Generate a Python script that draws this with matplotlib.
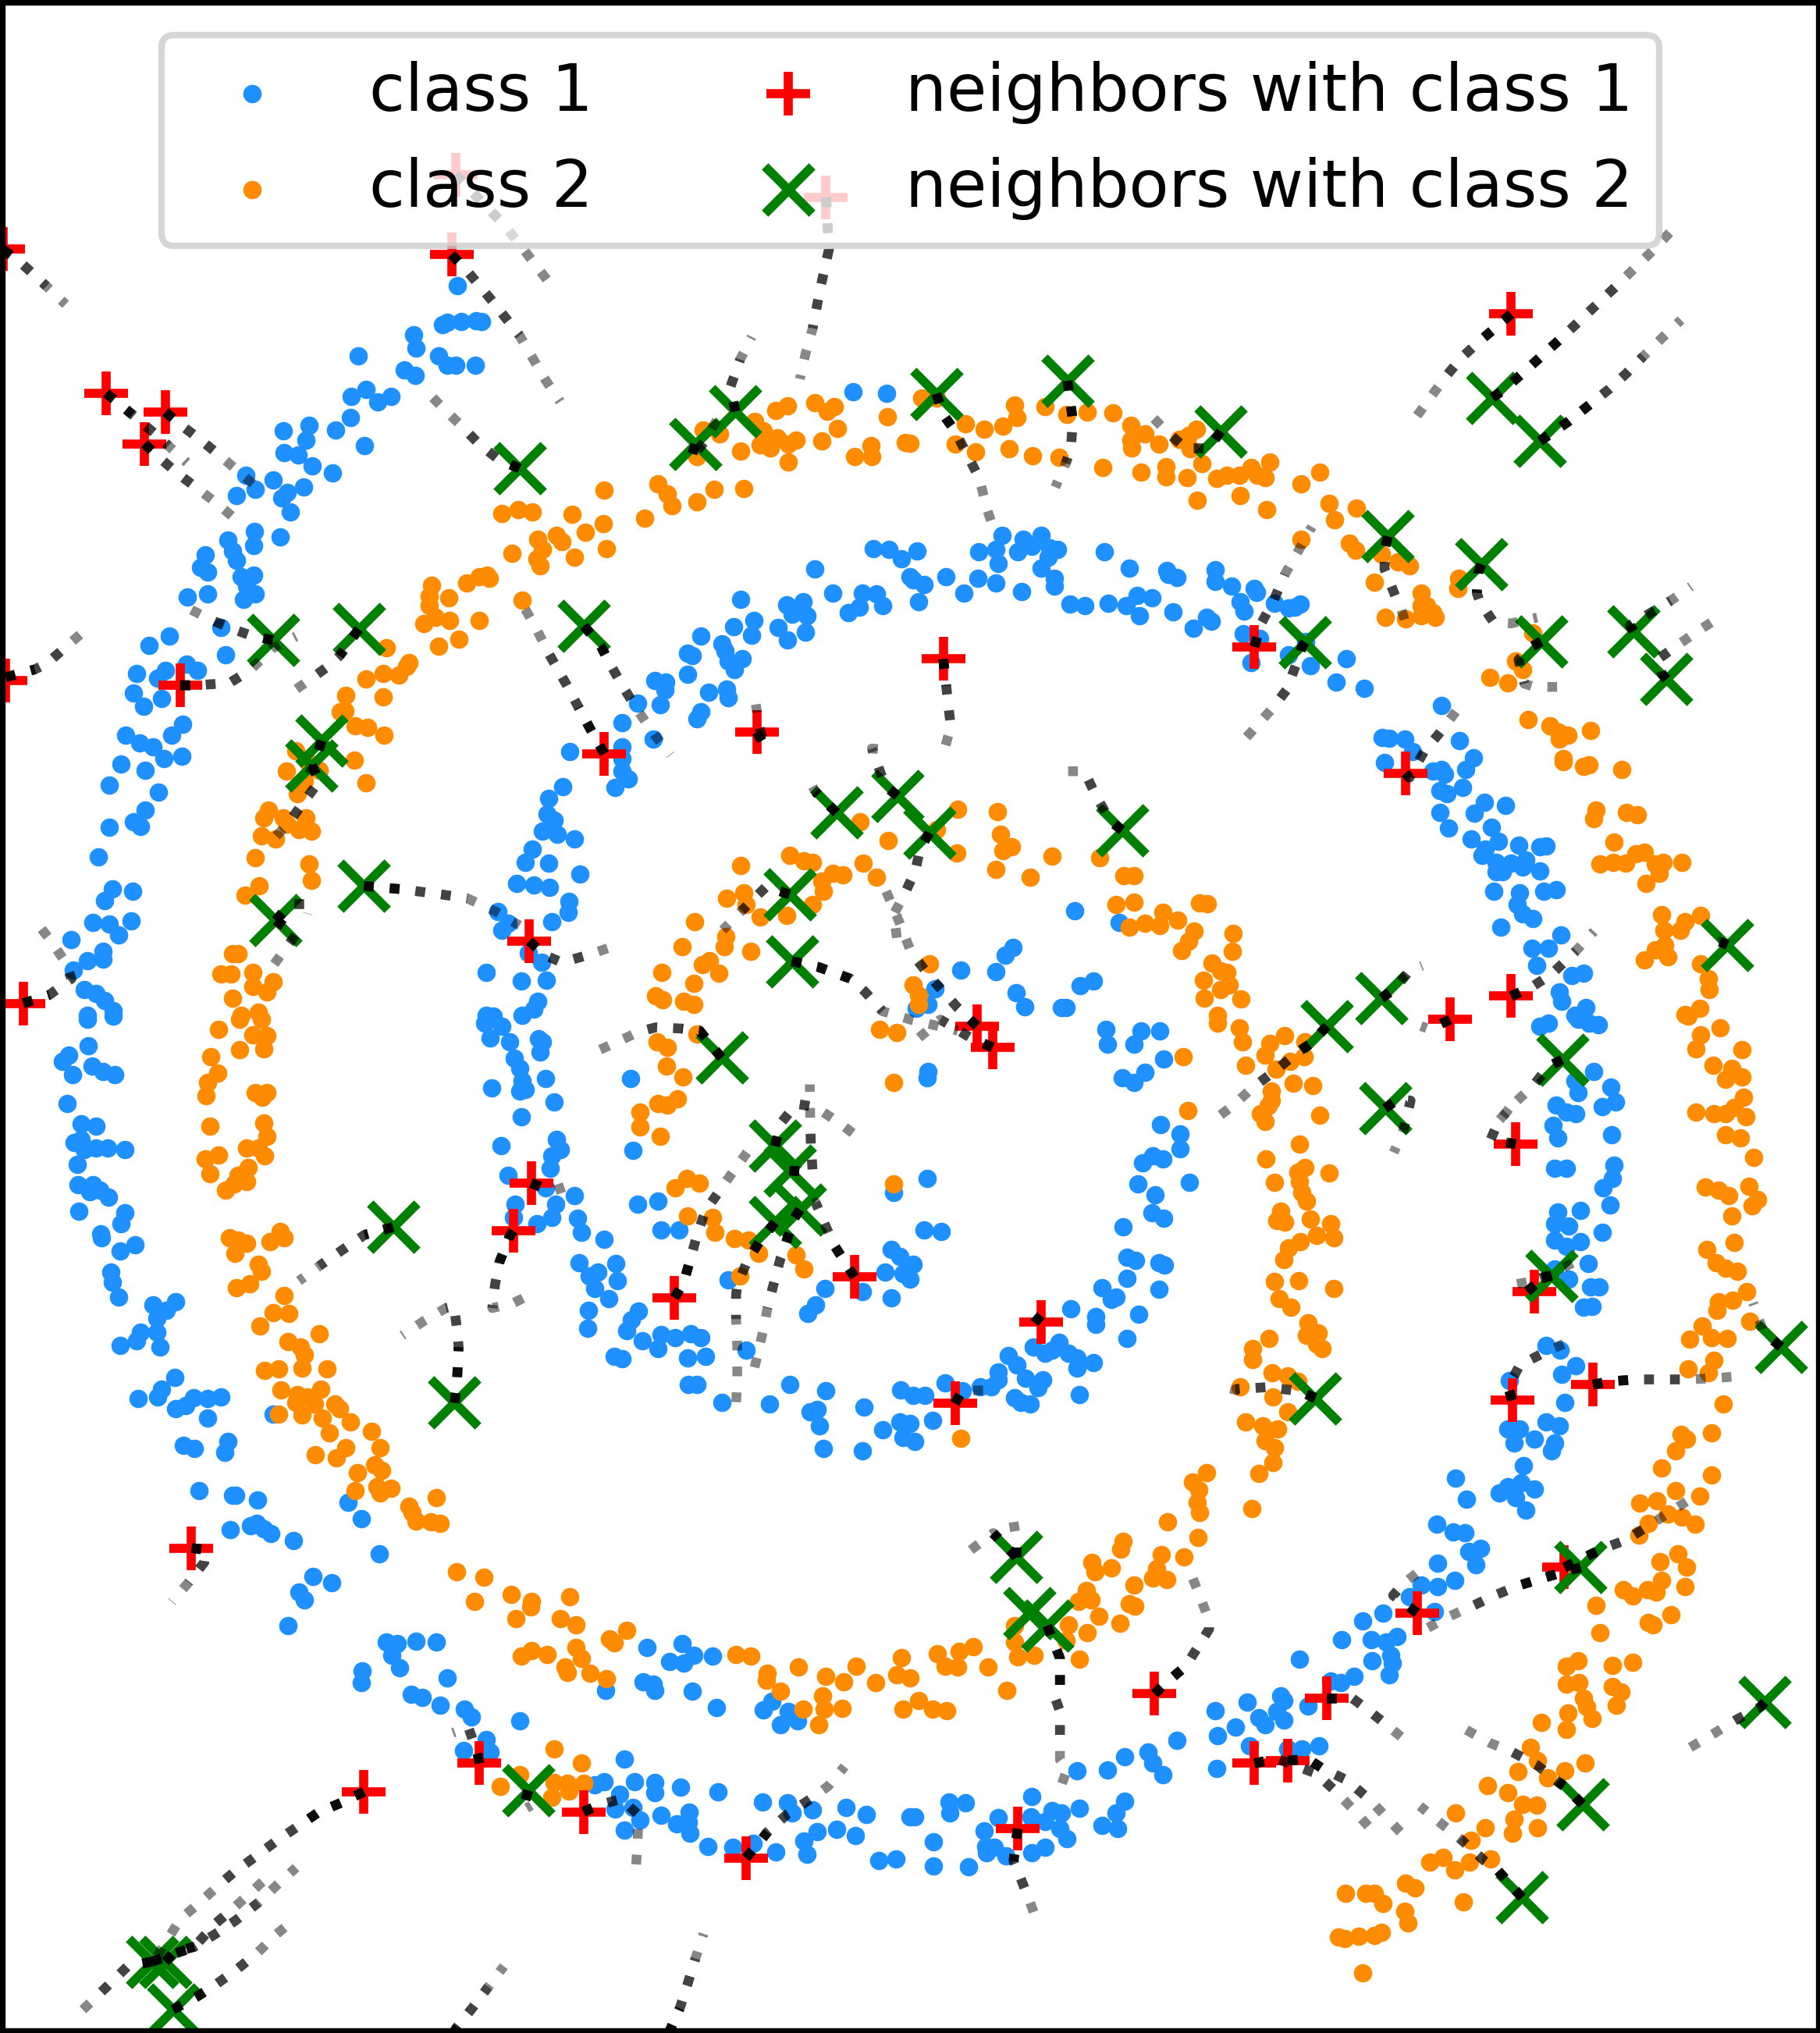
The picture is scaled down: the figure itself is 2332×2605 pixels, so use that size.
import numpy as np
import matplotlib
matplotlib.use('Agg')
import matplotlib.pyplot as plt

# points, one list per quadrant (each quadrant is 1568 units wide and tall)
blue_nw = [(788,441),(762,501),(770,498),(795,497),(820,495),(830,497),(712,517),(717,537),(617,550),(755,549),(770,564),(785,564),(819,564),(697,571),(715,579),(605,612),(631,601),(651,620),(673,612),(603,645),(578,664),(488,665),(532,657),(527,680),(628,688),(490,699),(513,702),(538,719),(573,730),(424,733),(471,741),(440,755),(523,752),(407,765),(495,760),(485,768),(500,790),(438,820),(392,834),(437,842),(482,829),(400,850),(353,856),(408,865),(345,876),(358,883),(437,888),(415,890),(425,905),(440,916),(420,925),(323,921),(358,917),(381,968),(292,981),(257,996),(388,1010),(322,1025),(340,1034),(285,1035),(235,1039),(272,1047),(230,1069),(278,1078),(247,1090),(314,1118),(296,1135),(217,1135),(240,1146),(263,1152),(282,1171),(313,1167),(209,1179),(250,1188),(188,1212),(273,1222),(250,1250),(230,1268),(242,1275),(188,1276),(169,1322),(194,1372),(229,1375),(180,1389),(160,1423),(188,1426),(226,1421),(205,1443),(123,1450),(178,1468),(150,1482),(178,1480),(127,1497),(145,1527),(165,1533),(180,1544),(195,1559),(150,1567),
    (1403,878),(1505,847),(1531,848),(1553,862),(1567,890),(1435,915),(1276,925),(1355,933),(1384,929),(1486,915),(1510,917),(1521,935),(1480,937),(1461,945),(1365,948),(1390,950),(1299,957),(1264,967),(1340,968),(1388,976),(1356,988),(1295,980),(1208,982),(1243,994),(1249,1005),(1184,1008),(1192,1012),(1255,1020),(1278,1016),(1265,1033),(1128,1050),(1147,1052),(1184,1041),(1145,1065),(1221,1068),(1252,1063),(1255,1077),(1098,1085),(1137,1088),(1207,1098),(1201,1109),(1072,1115),(1125,1140),(1071,1153),(981,1160),(1071,1171),(1072,1190),(1082,1202),(1059,1215),(969,1214),(945,1232),(943,1256),(955,1265),(935,1282),(960,1287),(990,1295),(917,1310),(905,1330),(945,1332),(890,1363),(919,1365),(947,1369),(999,1349),(980,1391),(979,1408),(858,1407),(875,1425),(865,1435),(950,1422),(910,1470),(933,1485),(838,1500),(941,1512),(898,1513),(926,1545),(900,1567),(920,1557),(838,1567),(1469,605),(1528,607)]
blue_ne = [(12,850),(118,851),(148,848),(195,832),(158,826),(226,826),(210,843),(185,851),(240,845),(254,848),(238,860),(152,870),(226,877),(335,851),(377,877),(61,890),(116,892),(147,900),(5,895),(24,902),(93,915),(192,913),(15,929),(249,893),(248,905),(442,880),(460,891),(445,887),(526,879),(525,897),(553,904),(592,908),(597,914),(568,928),(575,943),(275,932),(301,934),(341,931),(372,934),(391,919),(417,923),(395,950),(453,944),(488,970),(511,953),(519,959),(627,931),(652,938),(672,932),(662,937),(574,978),(602,985),(652,1010),(681,990),(587,1023),(690,1027),(751,1016),(734,1053),(782,1062),(915,1089),(813,1138),(825,1139),(852,1141),(946,1143),(865,1160),(970,1169),(817,1177),(957,1187),(900,1190),(915,1187),(920,1194),(913,1220),(925,1225),(952,1215),(913,1254),(989,1238),(1025,1243),(972,1255),(928,1278),(1001,1277),(966,1295),(1013,1298),(1049,1304),(1085,1306),(1095,1305),(990,1310),(985,1320),(1010,1330),(1035,1332),(1060,1327),(1010,1345),(1020,1345),(1055,1338),(1085,1344),(1005,1375),(1050,1378),(1091,1375),(1113,1373),(1045,1395),(1055,1410),(1072,1417),(1018,1430),(1121,1443),(1071,1463),(1099,1463),(1079,1489),(1140,1505),(1160,1502),(1118,1530),(1122,1545),(1164,1555),(1145,1567),(284,1405),(360,1423),(177,1462),(164,1474),(87,1497),(148,1499),(43,1525),(183,1531),(293,1521),(316,1513),(197,1553),(260,1555),(268,1555),(30,1550),(10,1556)]
blue_sw = [(150,5),(195,0),(152,45),(118,60),(108,70),(125,90),(158,77),(178,85),(198,90),(116,134),(140,166),(165,170),(128,195),(140,190),(145,205),(165,203),(185,203),(215,205),(133,228),(135,260),(160,260),(155,270),(172,268),(187,279),(136,301),(215,303),(208,320),(174,335),(175,342),(232,352),(207,362),(191,394),(194,410),(205,433),(263,445),(303,440),(287,453),(270,465),(242,487),(270,487),(235,500),(207,508),(275,510),(301,557),(278,575),(238,589),(272,587),(334,588),(358,590),(380,587),(303,605),(320,600),(357,620),(316,662),(335,667),(392,656),(387,672),(343,732),(400,739),(406,739),(444,746),(397,792),(443,782),(432,786),(455,790),(467,798),(505,809),(599,750),(623,775),(654,829),(539,864),(571,874),(515,888),(525,900),(496,940),(470,613),(665,965),(685,968),(716,964),(751,965),(675,985),(689,1005),(624,1010),(623,1027),(770,1020),(709,1046),(727,1050),(758,1062),(800,1068),(812,1080),(896,1086),(838,1116),(799,1132),(845,1135),(1075,1145),(1040,1180),(1025,1185),(1093,1180),(1128,1182),(1128,1197),(1172,1189),(1237,1196),(1067,1200),(1060,1222),(1090,1220),(1103,1240),(1075,1255),(1139,1232),(1165,1245),(1187,1227),(1186,1243),(1189,1260),(1220,1280),(1262,1282),(1298,1275),(1337,1289),(1313,1212),(1357,1213),(1365,1228),(1399,1224),(1457,1220),(1492,1231),(1385,1272),(1408,1258),(1441,1254),(1474,1263),(1390,1292),(1514,1302),(1544,1300),(1568,1235),
    (850,0),(835,10),(865,15),(845,33),(878,40),(928,35),(935,40),(930,55),(886,65),(895,80),(940,96),(900,100),(895,115),(905,113),(847,110),(955,132),(898,155),(863,200),(958,190),(965,205),(950,215),(948,235),(875,245),(1087,96),(1091,207),(1098,290),(1133,285),(1139,330),(1170,330),(990,277),(995,312),(1002,333),(957,290),(950,310),(925,320),(888,290),(940,265),(885,310),(1040,344),(998,380),(1030,395),(1015,400),(1061,381),(1064,408),(1025,420),(1049,435),(1014,453),(1100,455),(1088,468),(1080,485),(1013,481),(1107,500),(1139,491),(1163,495),(1190,490),(1207,496),(1133,513),(1058,525),(1072,528),(1184,527),(1215,524),(1285,515),(1186,568),(1200,568),(1243,596),(1325,598),(1361,568),(1422,578),(1395,610),(1408,606),(1412,632),(1488,603),(1521,638),(1552,576),(1550,625),(1418,667),(1486,670),(1555,650),(1254,407),(1421,420),(1485,424),(1405,445),(1392,458),(1535,434),(1524,394),(1535,360),(1550,370),(1555,397),(1540,272),
    (1115,973),(1175,967),(1195,985),(1228,987),(1153,995),(1178,998),(1108,1026),(1125,1030),(1128,1040),(1192,1041),(1043,1040),(1234,1066),(1315,1070),(1330,1057),(1358,1072),(1345,1092),(1374,1087)]
blue_se = [(29,95),(30,85),(337,20),(398,22),(430,22),(340,43),(385,43),(436,66),(365,95),(385,102),(405,86),(431,167),(465,181),(465,204),(400,226),(418,215),(435,220),(392,259),(481,256),(422,275),(417,303),(436,312),(367,325),(29,250),(24,330),(54,332),(373,372),(388,376),(428,380),(438,384),(5,382),(0,405),(374,404),(428,421),(331,419),(355,433),(346,437),(276,451),(393,460),(320,463),(319,475),(373,497),(257,503),(212,510),(232,520),(245,515),(272,520),(287,527),(169,523),(184,538),(152,548),(152,560),(198,558),(228,560),(220,573),(292,583),(180,588),(190,595),(207,598),(288,543),(316,534),(60,565),(120,571),(140,572),(90,578),(5,585),(25,585),(0,628),(38,623),(8,656),
    (1085,15),(1100,10),(1150,5),(1170,10),(1185,13),(1178,85),(1207,109),(1215,132),(1192,139),(1145,100),(1150,118),(1113,137),(1130,148),(1147,150),(1108,168),(1115,187),(1208,183),(1110,235),(1130,235),(1213,230),(1210,250),(1193,264),(1206,291),(1155,299),(1115,302),(1110,320),(1135,324),(1192,333),(1155,347),(1110,345),(1130,355),(1168,381),(1110,390),(1135,405),(1172,417),(1187,417),(1160,449),(1175,447),(1095,508),(1120,515),(1146,539),(1122,552),(1032,562),(1128,596),(1095,625),(1118,631),(1030,637),(1050,637),(1040,658),(1075,652),(1110,658),(1105,670),(1057,693),(939,712),(958,745),(1030,725),(1015,735),(1043,742),(1053,720),(1075,729),(1060,762),(907,783),(936,795),(955,797),(962,825),(983,820),(974,846),(908,844),(938,870),(880,877),(908,880),(860,895),(903,918),(815,921),(780,933),(743,961),(794,961),(820,965),(838,956),(828,985),(796,994),(830,998),(825,1016),(670,991),(765,1018),(725,1025),(742,1027),(580,1058),(638,1048),(643,1055),(686,1064),(525,1071),(632,1072),(600,1082),(643,1085),(612,1093),(560,1096),(530,1109),(459,1117),(410,1135),(418,1152),(435,1170),(369,1142),(340,1162),(288,1163),(704,1125),(585,1125),(675,1130),(650,1130),(528,1160),
    (210,1203),(67,1212),(95,1213),(68,1228),(8,1235),(152,1236),(128,1256),(208,1235),(245,1225),(260,1228),(232,1242),(258,1253),(292,1221),(370,1211),(355,1228),(330,1248),(357,1253),(270,1268),(232,1282),(40,1273),(130,1280),(145,1282),(132,1290),(165,1295),(210,1290),(40,1310),(100,1312)]

orange_nw = [(1403,622),(1357,626),(1336,634),(1437,628),(1425,635),(1300,650),(1442,661),(1529,643),(1212,664),(1240,670),(1315,665),(1339,676),(1372,680),(1358,686),(1310,687),(1327,692),(1416,681),(1500,688),(1560,683),(1276,696),(1200,705),(1472,705),(1502,705),(1358,713),(1041,756),(1134,747),(1150,763),(1158,781),(1230,755),(1281,754),(1200,774),(1110,800),(865,793),(893,787),(917,790),(985,794),(1039,808),(958,826),(927,832),(968,836),(1009,821),(1044,847),(934,848),(882,854),(989,860),(925,862),(931,873),(839,888),(825,890),(843,893),(804,900),(744,903),(740,920),(773,923),(899,926),(740,935),(750,953),(775,957),(826,957),(730,962),(790,986),(755,997),(666,1000),(704,1023),(700,1028),(660,1039),(687,1042),(631,1048),(595,1073),(660,1075),(594,1097),(586,1098),(612,1120),(633,1122),(662,1135),(510,1158),(611,1173),(530,1175),(493,1190),(550,1188),(630,1208),(525,1205),(512,1225),(463,1250),(488,1262),(527,1262),(455,1262),(495,1272),(451,1290),(515,1280),(537,1282),(475,1295),(440,1323),(533,1333),(537,1358),(447,1367),(422,1381),
    (1276,1336),(1252,1386),(1281,1378),(1197,1422),(1285,1395),(1310,1415),(1355,1412),(1400,1395),(1416,1360),(1435,1347),(1452,1350),(1487,1332),(1510,1354),(1530,1297),(1482,1268),(1400,1330),(1360,1320),(1385,1328),(1418,1375),(1250,1445),(1175,1460),(1293,1468),(1248,1460),(1222,1482),(1210,1488),(1238,1502),(1140,1500),(1195,1517),(1130,1537),(1142,1543),(1178,1545),(1195,1550),(400,1472),(410,1472),(380,1503),(398,1503),(435,1500),(470,1515),(435,1522),(460,1530),(400,1540),(445,1562),(415,1567)]
orange_ne = [(45,615),(20,615),(180,625),(232,628),(270,640),(305,636),(349,637),(95,654),(128,662),(160,658),(184,645),(380,656),(405,670),(0,684),(77,686),(113,698),(171,693),(211,704),(257,706),(380,680),(382,692),(429,685),(463,678),(493,663),(480,672),(503,715),(483,693),(619,713),(332,721),(397,729),(441,720),(441,736),(477,737),(528,739),(545,733),(567,733),(587,722),(598,733),(612,737),(706,729),(673,747),(494,772),(568,765),(614,787),(721,777),(769,784),(731,802),(673,832),(756,838),(768,849),(812,855),(840,867),(860,873),(799,898),(945,892),(943,908),(880,915),(890,935),(880,935),(900,945),(880,950),(905,953),(818,953),(853,955),(1073,977),(1043,1020),(1055,1033),(998,1045),(1029,1054),(1064,1110),(1102,1120),(1117,1130),(1133,1135),(1118,1140),(1172,1127),(1125,1170),(1125,1175),(1160,1182),(1170,1180),(1226,1187),(1182,1250),(1177,1263),(1234,1253),(1253,1257),(1212,1299),(1265,1315),(1250,1317),(1188,1333),(1211,1330),(1233,1332),(1330,1331),(1284,1333),(1297,1331),(1290,1347),(1267,1363),
    (82,1249),(150,1252),(156,1287),(45,1280),(175,1307),(160,1313),(80,1316),(244,1321),(147,1342),(207,1353),(326,1323),(368,1351),(385,1351),(354,1396),(385,1392),(498,1393),(512,1394),(435,1408),(405,1424),(430,1428),(378,1430),(461,1420),(489,1436),(556,1440),(480,1452),(468,1467),(555,1468),(1294,1411),(1335,1422),(1361,1413),(1327,1435),(1298,1435),(1300,1458),(1283,1465),(1265,1481),(1305,1476),(1362,1487),(520,1486),(535,1498),(545,1500),(505,1512),(550,1520),(535,1527),(507,1540),(570,1541),(1375,1510),(1377,1527),(33,1487),(5,1520),(15,1550),(15,1535),(1360,1556),(1335,1565),(530,1567)]
orange_sw = [(377,20),(413,5),(450,5),(435,28),(460,30),(455,50),(413,52),(363,62),(375,88),(358,102),(355,123),(440,118),(460,118),(452,125),(361,170),(455,165),(460,185),(425,203),(445,203),(456,215),(354,220),(377,214),(362,243),(428,233),(410,245),(425,255),(403,258),(389,268),(395,342),(410,345),(425,350),(405,366),(465,348),(483,332),(490,342),(445,383),(450,393),(407,418),(430,413),(490,431),(470,457),(498,458),(448,477),(550,490),(496,502),(517,510),(525,522),(520,543),(456,546),(480,544),(563,544),(484,576),(512,583),(530,587),(553,575),(542,598),(577,598),(510,595),(480,613),(520,615),(585,605),(555,620),(603,625),(640,640),(568,643),(655,665),(595,665),(543,676),(580,681),(645,692),(657,700),(616,704),(650,725),(612,731),(655,735),(674,728),(752,742),(705,755),(710,765),(716,778),(742,780),(758,782),(787,857),(834,865),(880,892),(818,903),(916,903),(914,911),(982,895),(889,929),(966,929),(992,939),(1050,960),(1058,966),(1080,947),(898,987),(915,978),(942,984),(992,974),(1001,990),(973,1004),(977,1012),(1016,1013),(1044,1022),(1268,984),(1293,987),(1376,1004),(1321,1013),(1320,1024),(1422,1018),(1475,1002),(1453,1026),(1508,1028),(1545,1016),(1553,989),(1344,1041),(1417,1048),(1384,1068),(1420,1068),(1451,1067),(1556,1068),(1410,1093),(955,1130),(1001,1152),(895,1170),(862,1188),(955,1182),(978,1183),(1005,1183),(980,1195),(950,1204),
    (1132,40),(1150,48),(1148,77),(1177,93),(1103,148),(1103,171),(1133,135),(1150,137),(1167,127),(1138,185),(1200,27),(1163,265),(1183,250),(1205,257),(1184,308),(1228,310),(1232,333),(1265,343),(1290,345),(1307,365),(1372,368),(1385,390),(1275,400),(1540,102),(1515,20),(1545,25),(1540,258)]
orange_se = [(529,10),(567,18),(645,30),(573,40),(620,42),(680,40),(612,60),(655,70),(678,62),(470,62),(578,76),(630,82),(660,103),(693,107),(622,115),(622,130),(617,138),(478,145),(604,150),(612,162),(706,152),(671,197),(613,220),(680,233),(668,240),(721,242),(628,256),(670,255),(675,272),(683,285),(638,300),(632,315),(645,318),(690,313),(725,320),(700,338),(672,347),(652,357),(730,342),(643,375),(628,409),(669,408),(730,420),(636,435),(656,449),(685,473),(703,488),(682,492),(618,497),(700,505),(710,513),(590,512),(590,529),(623,550),(650,555),(568,571),(668,563),(625,587),(650,610),(578,625),(608,632),(633,637),(612,655),(628,665),(625,688),(600,705),(510,704),(486,718),(497,730),(495,750),(498,765),(588,759),(444,780),(496,804),(432,830),(471,834),(367,810),(363,822),(313,842),(318,857),(347,851),(425,852),(418,866),(442,869),(385,877),(303,885),(290,902),(312,900),(325,925),(377,906),(387,910),(361,936),(305,950),(272,938),(180,940),(180,965),(268,962),(185,988),(213,985),(292,992),(47,983),(60,1002),(82,1003),(85,980),(108,972),(134,1004),(0,1020),(166,1040),(14,1055),(38,1069),(63,1071),(87,651),
    (1340,0),(1362,28),(1395,18),(1433,51),(1353,50),(1383,75),(1415,80),(1405,97),(1433,93),(1435,125),(1420,140),(1353,148),(1385,150),(1405,150),(1440,155),(1405,183),(1430,187),(1453,218),(1370,263),(1392,268),(1410,276),(1445,262),(1460,282),(1450,292),(1415,308),(1420,349),(1373,360),(1388,380),(1405,388),(1425,393),(1441,424),(1417,438),(1392,440),(1390,453),(1446,470),(1364,477),(1343,498),(1380,495),(1408,497),(1385,530),(1340,544),(1375,550),(1400,598),(1380,643),(1328,645),(1338,652),(1318,670),(1295,697),(1380,707),(1318,731),(1257,751),(1287,747),(1360,740),(1305,767),(1272,782),(1330,773),(1352,783),(1255,800),(1322,829),(1292,841),(1338,850),(1295,870),(1335,880),(1229,884),(1245,894),(1270,884),(1285,888),(1181,908),(1311,923),(1272,935),(1280,938),(1188,950),(1130,1002),(1150,994),(1210,1001),(1245,996),(1130,1030),(1152,1028),(1210,1033),(1225,1042),(1216,1062),(1160,1052),(1165,1065),(1175,1083),(1133,1075),(1087,1089),(1130,1100),(1068,1127),(1080,1148),(1047,1165),(1128,1163),(1162,1152),(1098,1175),(995,1187),(1030,1197),(1055,1215),(1079,1217),(1040,1238),(1080,1252),(1037,1260),(940,1229),(990,1252),(966,1271),(895,1304),(918,1297),(938,1316),(963,1305),(1000,1300),(853,1337),(870,1344),(750,1353),(785,1353),(800,1353),(814,1368),(852,1380),(857,1398),(953,1366),(738,1420),(748,1422),(773,1419),(800,1417),(812,1413),(780,1475)]

# neighbors, whole-picture units
plus_pts = [(5,385),(778,393),(183,607),(285,636),(249,685),(310,1057),(10,1050),(1041,1163),(1304,1130),(912,1452),(40,1548),(785,270),(1423,305),
    (1625,1017),(2161,998),(2603,485),(2421,1193),(2603,1537),(2498,1573),(1683,1583),(1710,1616),
    (915,1825),(884,1899),(1162,2002),(1472,1970),(330,2388),(627,2764),(826,2720),(1005,2795),(1285,2866),
    (2611,1765),(2643,1993),(1794,2040),(1645,2165),(2605,2160),(2744,2136),(1753,2821),(1989,2613),(2286,2620),(2161,2720),(2219,2716),(2441,2488),(2695,2418)]
cross_pts = [(895,723),(1198,686),(1267,635),(470,988),(618,971),(1006,966),(554,1143),(537,1181),(627,1367),(475,1420),(1360,1380),(1364,1483),(1441,1254),(1546,1228),
    (1613,608),(1839,588),(2103,666),(2391,828),(2552,871),(2571,614),(2653,681),(2248,991),(2655,990),(2814,974),(2871,1048),(1933,1281),(1601,1285),(2976,1458),(2380,1540),(2286,1583),
    (1243,1632),(1335,1768),(1360,1806),(1378,1866),(1335,1886),(677,1893),(783,2164),(910,2762),(262,3026),(285,3026),(298,3100),
    (2691,1635),(2386,1710),(2673,1968),(3068,2078),(2266,2157),(2723,2418),(1751,2402),(1774,2489),(1804,2508),(3040,2626),(2726,2783),(2622,2927)]

# neighbor trajectories, starting at the neighbor
paths = [
    [(5,385),(35,405),(80,442),(113,470)],
    [(785,270),(868,347),(900,383),(955,447)],
    [(1423,305),(1428,385),(1412,450),(1400,507),(1388,545),(1378,585)],
    [(778,393),(808,422),(850,467),(895,518),(940,587),(965,620)],
    [(183,607),(228,640),(270,672),(290,688),(322,714)],
    [(285,636),(310,655),(347,680),(385,708),(453,760)],
    [(249,685),(270,703),(305,730),(340,754),(375,778),(408,803)],
    [(895,723),(860,710),(825,685),(792,655),(760,627),(728,598)],
    [(1198,686),(1190,708),(1215,680),(1240,640)],
    [(1267,635),(1258,598),(1275,555),(1295,520)],
    [(470,988),(430,980),(405,972),(367,958),(327,940)],
    [(618,971),(585,1012),(567,1027),(532,1050),(495,1073)],
    [(310,1057),(345,1057),(395,1054),(430,1035),(470,1000),(510,982)],
    [(10,1045),(60,1033),(82,1023),(115,997),(150,970)],
    [(1006,966),(1035,997),(1050,1023),(1072,1058),(1100,1098),(1127,1133),(1155,1165)],
    [(1041,1163),(1020,1130),(997,1092),(975,1055),(945,1008),(925,972),(903,937)],
    [(1625,1017),(1630,1058),(1633,1082),(1638,1122),(1625,1162)],
    [(1304,1130),(1318,1152),(1308,1122),(1302,1087)],
    [(1441,1254),(1405,1222),(1388,1195)],
    [(1546,1228),(1525,1213),(1502,1155),(1528,1157)],
    [(627,1367),(692,1372),(760,1380),(805,1386),(855,1407),(895,1428)],
    [(912,1452),(937,1473),(968,1485),(1018,1472),(1063,1458)],
    [(475,1420),(500,1395),(535,1395),(530,1410)],
    [(475,1420),(510,1442),(485,1472),(458,1505)],
    [(554,1143),(540,1183),(525,1205)],
    [(537,1181),(550,1205),(495,1272),(465,1300)],
    [(1360,1380),(1320,1368),(1278,1405),(1245,1435)],
    [(1364,1483),(1410,1492),(1465,1510),(1490,1530),(1520,1560),(1568,1573),(1650,1590)],
    [(1683,1583),(1650,1555),(1605,1510),(1570,1470),(1548,1420),(1525,1372)],
    [(1710,1616),(1670,1600),(1620,1573),(1578,1605)],
    [(1243,1632),(1205,1590),(1175,1587),(1130,1585),(1100,1592),(1062,1608),(1020,1625)],
    [(1613,608),(1625,640),(1645,665),(1665,700),(1687,738),(1700,785),(1715,825)],
    [(1839,588),(1848,648),(1845,692),(1836,715),(1818,752)],
    [(2103,666),(2082,692),(2042,692),(2005,662),(1975,634)],
    [(2391,828),(2386,845),(2385,878),(2406,925),(2413,937),(2425,973)],
    [(2552,871),(2546,885),(2544,915),(2550,930),(2573,960),(2603,962),(2648,953)],
    [(2655,990),(2638,998),(2616,1018),(2626,1055),(2643,1060),(2686,1060)],
    [(2248,991),(2243,998),(2236,1018),(2216,1065),(2193,1092),(2163,1122),(2133,1152)],
    [(2161,998),(2163,992),(2171,965),(2195,925),(2213,887),(2238,848),(2260,813)],
    [(2814,974),(2808,965),(2878,927),(2913,905)],
    [(2871,1048),(2863,1040),(2855,1018),(2883,1000),(2918,978),(2954,957)],
    [(2603,485),(2575,507),(2551,525),(2518,552),(2490,582),(2463,615),(2436,648)],
    [(2571,614),(2593,600),(2643,560),(2686,525),(2718,498),(2751,470),(2783,443),(2815,415),(2846,388),(2878,358)],
    [(2653,681),(2703,650),(2738,625),(2773,600),(2800,578),(2831,550),(2863,522),(2896,494)],
    [(1933,1281),(1913,1267),(1888,1228),(1868,1190),(1826,1190)],
    [(2421,1193),(2428,1200),(2453,1160),(2481,1130),(2508,1098)],
    [(2603,1537),(2640,1522),(2673,1503),(2715,1467),(2746,1437)],
    [(2976,1458),(2963,1453),(2936,1458)],
    [(2380,1540),(2403,1525),(2428,1498),(2450,1490)],
    [(2498,1573),(2463,1588),(2448,1583)],
    [(1601,1285),(1585,1310),(1577,1343),(1558,1380),(1540,1410),(1548,1470)],
    [(2286,1583),(2258,1610),(2236,1623),(2198,1651),(2158,1678),(2125,1705),(2088,1730)],
    [(2386,1710),(2408,1696),(2430,1698),(2418,1743),(2401,1778)],
    [(2611,1765),(2598,1763),(2568,1758),(2580,1733),(2608,1701)],
    [(2691,1635),(2673,1643),(2658,1656),(2643,1673),(2608,1703),(2578,1733)],
    [(2673,1968),(2631,1978),(2588,1985)],
    [(2643,1993),(2630,1980),(2665,1968),(2710,1948)],
    [(3068,2078),(3038,2055),(3020,2010)],
    [(2744,2136),(2773,2131),(2821,2128),(2866,2128),(2911,2128),(2953,2126),(2998,2123)],
    [(2605,2160),(2598,2140),(2618,2106),(2668,2083),(2713,2066)],
    [(2266,2157),(2238,2146),(2183,2140),(2128,2143),(2121,2170)],
    [(1645,2165),(1658,2145),(1713,2145)],
    [(1794,2040),(1778,2028),(1773,2016)],
    [(2723,2418),(2663,2433),(2616,2446),(2575,2461),(2540,2476),(2498,2493),(2460,2511)],
    [(2695,2418),(2758,2390),(2800,2376),(2838,2355),(2876,2333),(2916,2310)],
    [(2441,2488),(2423,2476),(2400,2461),(2418,2443),(2453,2418)],
    [(1751,2402),(1751,2376),(1746,2348)],
    [(1751,2402),(1711,2365),(1665,2396)],
    [(1804,2508),(1826,2558),(1826,2601),(1818,2620),(1826,2640),(1826,2680),(1826,2715),(1838,2730),(1828,2755)],
    [(1989,2613),(2006,2598),(2043,2570),(2083,2513),(2083,2500),(2068,2465),(2051,2426)],
    [(2286,2620),(2330,2620),(2351,2634),(2385,2658),(2419,2683)],
    [(2219,2716),(2253,2713),(2278,2728),(2320,2746),(2362,2778),(2393,2808),(2423,2836)],
    [(2161,2720),(2200,2713),(2268,2736),(2303,2765),(2333,2793),(2363,2823)],
    [(2622,2927),(2580,2885),(2558,2871),(2515,2836),(2480,2811),(2446,2786)],
    [(2726,2783),(2698,2758),(2683,2748),(2648,2723),(2606,2703),(2565,2688),(2525,2668)],
    [(3040,2626),(3033,2633),(2991,2653),(2973,2663),(2936,2683),(2897,2703)],
    [(1753,2821),(1746,2871),(1755,2890),(1771,2926),(1786,2963)],
    [(1335,1768),(1345,1733),(1372,1703),(1405,1708),(1447,1733),(1483,1758)],
    [(1360,1806),(1400,1808),(1397,1768),(1396,1738),(1395,1673)],
    [(1472,1970),(1437,1921),(1423,1893),(1405,1855),(1378,1866)],
    [(1378,1866),(1368,1880),(1350,1928),(1345,1940),(1333,1980),(1322,2018),(1317,2043),(1307,2083),(1297,2120)],
    [(1335,1886),(1308,1916),(1287,1946),(1270,1983),(1268,1998),(1268,2035),(1270,2075),(1270,2128),(1268,2168)],
    [(1162,2002),(1178,1978),(1190,1940),(1200,1908),(1215,1868),(1235,1843),(1260,1811),(1287,1778)],
    [(915,1825),(950,1838),(993,1825)],
    [(884,1899),(877,1909),(860,1948),(853,1981),(848,2018),(885,2010),(925,1992)],
    [(783,2164),(787,2136),(790,2078),(788,2055),(782,2015),(768,2018),(730,2038),(693,2060)],
    [(677,1893),(628,1905),(587,1930),(550,1953),(515,1976)],
    [(330,2388),(355,2391),(352,2410),(325,2441),(296,2471)],
    [(826,2720),(822,2703),(807,2665),(780,2673)],
    [(910,2762),(900,2793),(915,2785)],
    [(1005,2795),(1030,2785),(1070,2775),(1100,2800),(1098,2848),(1095,2888)],
    [(1285,2866),(1310,2840),(1322,2826),(1357,2798),(1400,2773),(1427,2755),(1455,2725)],
    [(627,2764),(590,2780),(548,2796),(512,2818),(476,2840),(440,2864),(403,2888),(377,2908),(345,2934),(310,2961),(265,3026)],
    [(285,3026),(300,3011),(335,3003),(368,2985),(405,2963),(445,2935),(477,2908),(510,2881)],
    [(262,3026),(335,3003),(370,2968),(403,2943),(436,2916),(470,2888)],
    [(262,3026),(220,3033),(188,3061),(157,3088),(124,3116)],
    [(298,3100),(341,3079),(372,3061),(408,3038),(445,3011),(477,2983),(511,2958)],
    [(760,3165),(788,3126),(815,3096),(841,3065),(868,3033)],
    [(1150,3140),(1171,3098),(1185,3059),(1198,3021),(1212,2983)],
    [(40,1548),(85,1535),(123,1510),(113,1485),(88,1452),(60,1420)],
]

def place(pts, dx, dy):
    a = np.array(pts, dtype=float)
    return a + [dx, dy]

blue = np.vstack([place(blue_nw, 0, 0), place(blue_ne, 1568, 0), place(blue_sw, 0, 1568), place(blue_se, 1568, 1568)])
orange = np.vstack([place(orange_nw, 0, 0), place(orange_ne, 1568, 0), place(orange_sw, 0, 1568), place(orange_se, 1568, 1568)])
plus = np.array(plus_pts)
cross = np.array(cross_pts)

plt.rcParams['axes.linewidth'] = 3.2
plt.rcParams['patch.linewidth'] = 2

fig = plt.figure(figsize=(2332.5 / 300, 2605.5 / 300), dpi=300)
ax = fig.add_axes([0, 0, 1, 1])

ax.scatter(blue[:, 0], blue[:, 1], s=32, c='dodgerblue', linewidths=0, label='class 1')
ax.scatter(orange[:, 0], orange[:, 1], s=32, c='darkorange', linewidths=0, label='class 2')
ax.scatter(plus[:, 0], plus[:, 1], s=180, c='red', marker='+', linewidths=2.8, label='neighbors with class 1')
ax.scatter(cross[:, 0], cross[:, 1], s=210, c='green', marker='x', linewidths=2.8, label='neighbors with class 2')

# same path drawn three times, shorter each time, so it gets darker near the marker
for p in paths:
    p = np.array(p)
    n = len(p)
    for k, a in [(n, 0.47), (max(2, (2 * n + 2) // 3), 0.5), (max(2, (n + 2) // 3), 0.8)]:
        ax.plot(p[:k, 0], p[:k, 1], ':', color='k', lw=3, alpha=a, zorder=3)

ax.set_xlim(0, 3136)
ax.set_ylim(3136, 0)
ax.set_xticks([])
ax.set_yticks([])
ax.legend(loc='upper center', ncol=2, fontsize=20, borderaxespad=0.54)
plt.savefig('out.png', dpi=300)
